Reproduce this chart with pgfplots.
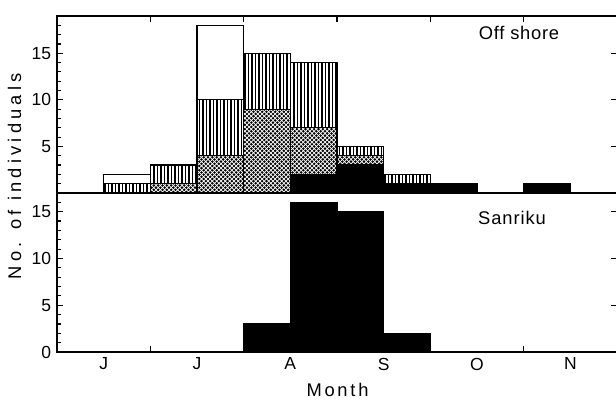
\documentclass[border=0pt]{standalone}
\usepackage{fontspec}
\setmainfont{Liberation Sans}
\usepackage{pgfplots}
\pgfplotsset{compat=1.18}
\usetikzlibrary{patterns}

\pgfdeclarepatternformonly{myvlines}{\pgfqpoint{-0.5pt}{-0.5pt}}{\pgfqpoint{2.6pt}{2.6pt}}{\pgfqpoint{2.1pt}{2.1pt}}{%
  \pgfsetlinewidth{0.85pt}%
  \pgfpathmoveto{\pgfqpoint{0pt}{-0.5pt}}%
  \pgfpathlineto{\pgfqpoint{0pt}{2.6pt}}%
  \pgfusepath{stroke}}
\pgfdeclarepatternformonly{mydots}{\pgfqpoint{-1pt}{-1pt}}{\pgfqpoint{3.8pt}{3.8pt}}{\pgfqpoint{2.6pt}{2.6pt}}{%
  \pgfpathcircle{\pgfqpoint{0pt}{0pt}}{0.85pt}%
  \pgfpathcircle{\pgfqpoint{1.3pt}{1.3pt}}{0.85pt}%
  \pgfusepath{fill}}

\pgfplotstableread{
x     blk dot vln wht
0.25  0   0   0   0
0.75  0   0   1   1
1.25  0   1   2   0
1.75  0   4   6   8
2.25  0   9   6   0
2.75  2   5   7   0
3.25  3   1   1   0
3.75  1   0   1   0
4.25  1   0   0   0
4.75  0   0   0   0
5.25  1   0   0   0
5.75  0   0   0   0
}\offshore

\pgfplotstableread{
x     blk
0.25  0
0.75  0
1.25  0
1.75  0
2.25  3
2.75  16
3.25  15
3.75  2
4.25  0
4.75  0
5.25  0
5.75  0
}\sanriku

\pgfplotsset{
  myaxis/.style={
    scale only axis, width=336pt, xmin=0, xmax=6,
    axis line style={line width=0.9pt},
    tick style={line width=0.7pt, black},
    major tick length=3.6pt, minor tick length=2.6pt,
    tick align=inside,
    /pgf/number format/assume math mode=true,
    ticklabel style={font=\fontsize{10.5}{12}\selectfont},
  },
  rightticks/.style={
    scale only axis, width=336pt, xmin=0, xmax=6,
    hide x axis, axis y line*=right,
    axis line style={line width=0.9pt},
    tick style={line width=0.7pt, black},
    major tick length=3.6pt, tick align=inside,
    ytick={5,10,15}, yticklabels={}, minor ytick={},
  },
}

\begin{document}
\begin{tikzpicture}
\path[use as bounding box] (-34.2pt,-28.8pt) rectangle (335.4pt,211.2pt);

% bottom panel: Sanriku
\begin{axis}[myaxis, at={(0pt,0pt)}, anchor=south west, height=95.4pt,
  ymin=0, ymax=17, ytick={0,5,10,15}, minor ytick={1,...,16}, ytick pos=left,
  xtick={1,2,3,4,5}, xticklabels={}, xtick pos=bottom,
  extra x ticks={0.5,1.5,2.5,3.5,4.5,5.5}, extra x tick labels={J,J,A,S,O,N},
  extra x tick style={major tick length=0pt},
  ybar stacked, bar width=0.5]
\addplot[fill=black, draw=black, line width=0.7pt] table[x=x, y=blk] {\sanriku};
\end{axis}
\begin{axis}[rightticks, at={(0pt,0pt)}, anchor=south west, height=95.4pt, ymin=0, ymax=17]
\end{axis}

% top panel: Off shore
\begin{axis}[myaxis, at={(0pt,95.4pt)}, anchor=south west, height=106.2pt,
  ymin=0, ymax=19, ytick={5,10,15}, minor ytick={1,...,18}, ytick pos=left,
  xtick={1,2,3,4,5}, xticklabels={}, xtick pos=top,
  ybar stacked, bar width=0.5]
\addplot[fill=black, draw=black, line width=0.7pt] table[x=x, y=blk] {\offshore};
\addplot[pattern=mydots, draw=black, line width=0.7pt] table[x=x, y=dot] {\offshore};
\addplot[pattern=myvlines, draw=black, line width=0.7pt] table[x=x, y=vln] {\offshore};
\addplot[fill=white, draw=black, line width=0.7pt] table[x=x, y=wht] {\offshore};
\end{axis}
\begin{axis}[rightticks, at={(0pt,95.4pt)}, anchor=south west, height=106.2pt, ymin=0, ymax=19]
\end{axis}

\node[anchor=base, rotate=90, font=\fontsize{11}{13}\selectfont\addfontfeatures{LetterSpace=23}] at (-21.6pt,105.5pt) {No. of individuals};
\node[anchor=base, font=\fontsize{11}{13}\selectfont\addfontfeatures{LetterSpace=15}] at (168.3pt,-27pt) {Month};
\node[anchor=base, font=\fontsize{11}{13}\selectfont\addfontfeatures{LetterSpace=4}] at (277.2pt,187.2pt) {Off shore};
\node[anchor=base, font=\fontsize{11}{13}\selectfont\addfontfeatures{LetterSpace=5}] at (273pt,76.2pt) {Sanriku};
\end{tikzpicture}
\end{document}
